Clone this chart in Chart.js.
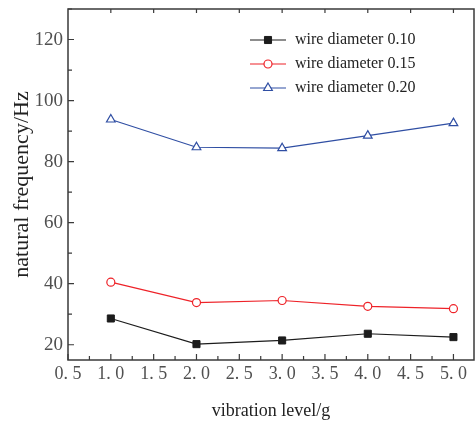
<!DOCTYPE html>
<html>
<head>
<meta charset="utf-8">
<script src="https://cdn.jsdelivr.net/npm/chart.js@4"></script>
<style>
    html, body { margin: 0; padding: 0; background: #fff; }
    #wrap { width: 475px; height: 424px; }
</style>
</head>
<body>
<div id="wrap"><canvas id="freq_canvas" width="475" height="424"></canvas></div>
<script>
const levels = [1.0, 2.0, 3.0, 4.0, 5.0]
const wire010 = [28.6, 20.2, 21.4, 23.6, 22.5]
const wire015 = [40.5, 33.8, 34.5, 32.6, 31.8]
const wire020 = [93.8, 84.7, 84.4, 88.5, 92.6]
const seriesNames = ['wire diameter 0.10', 'wire diameter 0.15', 'wire diameter 0.20']
const xTicks = [0.5, 1.0, 1.5, 2.0, 2.5, 3.0, 3.5, 4.0, 4.5, 5.0]
const yTicks = [20, 40, 60, 80, 100, 120]

const axisColor = '#3a3a3a'
const labelColor = '#505050'

function toPoints(vals) {
    return levels.map((x, i) => ({x: x, y: vals[i]}))
}

// box round the plot + inward ticks, and the legend
const framePlugin = {
    id: 'frame',
    afterDraw(chart) {
        const ctx = chart.ctx
        const a = chart.chartArea
        const xs = chart.scales.x
        const ys = chart.scales.y
        ctx.save()
        ctx.strokeStyle = axisColor
        ctx.lineWidth = 1.5
        ctx.strokeRect(a.left, a.top, a.right - a.left, a.bottom - a.top)
        ctx.lineWidth = 1.2
        ctx.beginPath()
        // bottom ticks, major and minor
        for (let v = 0.5; v <= 5.2; v += 0.25) {
            const px = xs.getPixelForValue(v)
            const major = Math.abs(v * 2 - Math.round(v * 2)) < 1e-6
            ctx.moveTo(px, a.bottom)
            ctx.lineTo(px, a.bottom - (major ? 6 : 4))
            if (major && v > 0.6) {
                ctx.moveTo(px, a.top)
                ctx.lineTo(px, a.top + 4)
            }
        }
        // left ticks
        for (let v = 20; v <= 130; v += 10) {
            const py = ys.getPixelForValue(v)
            ctx.moveTo(a.left, py)
            ctx.lineTo(a.left + (v % 20 === 0 ? 6 : 4), py)
        }
        ctx.stroke()

        // legend
        ctx.font = '16px "Liberation Serif"'
        ctx.textBaseline = 'middle'
        chart.data.datasets.forEach((ds, i) => {
            const y = 40 + i * 24
            ctx.strokeStyle = ds.borderColor
            ctx.lineWidth = ds.borderWidth
            ctx.beginPath()
            ctx.moveTo(250, y)
            ctx.lineTo(286, y)
            ctx.stroke()
            ctx.fillStyle = ds.pointBackgroundColor
            ctx.strokeStyle = ds.borderColor
            ctx.lineWidth = ds.pointBorderWidth
            Chart.helpers.drawPoint(ctx, {pointStyle: ds.pointStyle, radius: ds.pointRadius, rotation: 0, borderWidth: ds.pointBorderWidth}, 268, y)
            ctx.fillStyle = '#222'
            ctx.fillText(ds.label, 295, y)
        })
        ctx.restore()
    }
}

const setup = {
    datasets: [{
        label: seriesNames[0],
        data: toPoints(wire010),
        borderColor: '#1c1c1c',
        borderWidth: 1.2,
        pointStyle: 'rect',
        pointRadius: 5,
        pointBackgroundColor: '#1c1c1c',
        pointBorderWidth: 1
    }, {
        label: seriesNames[1],
        data: toPoints(wire015),
        borderColor: '#ee2228',
        borderWidth: 1.2,
        pointStyle: 'circle',
        pointRadius: 4,
        pointBackgroundColor: '#ffffff',
        pointBorderWidth: 1.2
    }, {
        label: seriesNames[2],
        data: toPoints(wire020),
        borderColor: '#2f4ea3',
        borderWidth: 1.2,
        pointStyle: 'triangle',
        pointRadius: 5,
        pointBackgroundColor: '#ffffff',
        pointBorderWidth: 1.2
    }]
}

const chart = new Chart(document.getElementById('freq_canvas'), {
    type: 'line',
    data: setup,
    plugins: [framePlugin],
    options: {
        responsive: false,
        animation: false,
        layout: {
            autoPadding: false,
            padding: {left: 0, top: 9, right: 1, bottom: 0}
        },
        plugins: {
            legend: {display: false},
            tooltip: {enabled: false}
        },
        scales: {
            x: {
                type: 'linear',
                min: 0.5,
                max: 5.24,
                afterBuildTicks: scale => {
                    scale.ticks = xTicks.map(v => ({value: v}))
                },
                afterFit: scale => {
                    scale.height = 64
                    scale.paddingLeft = 0
                    scale.paddingRight = 0
                },
                grid: {display: false, drawTicks: false},
                border: {display: false},
                ticks: {
                    padding: 3,
                    color: labelColor,
                    font: {family: '"Liberation Serif"', size: 18},
                    callback: v => v.toFixed(1).replace('.', '. ')
                },
                title: {
                    display: true,
                    text: 'vibration level/g',
                    color: '#222',
                    font: {family: '"Liberation Serif"', size: 18},
                    padding: {top: 0, bottom: 2}
                }
            },
            y: {
                min: 15,
                max: 130,
                afterBuildTicks: scale => {
                    scale.ticks = yTicks.map(v => ({value: v}))
                },
                afterFit: scale => {
                    scale.width = 68
                    scale.paddingTop = 0
                    scale.paddingBottom = 0
                },
                grid: {display: false, drawTicks: false},
                border: {display: false},
                ticks: {
                    padding: 5,
                    color: labelColor,
                    font: {family: '"Liberation Serif"', size: 19}
                },
                title: {
                    display: true,
                    text: 'natural frequency/Hz',
                    color: '#222',
                    font: {family: '"Liberation Serif"', size: 22},
                    padding: {top: 9, bottom: 0}
                }
            }
        }
    }
})
</script>
</body>
</html>
